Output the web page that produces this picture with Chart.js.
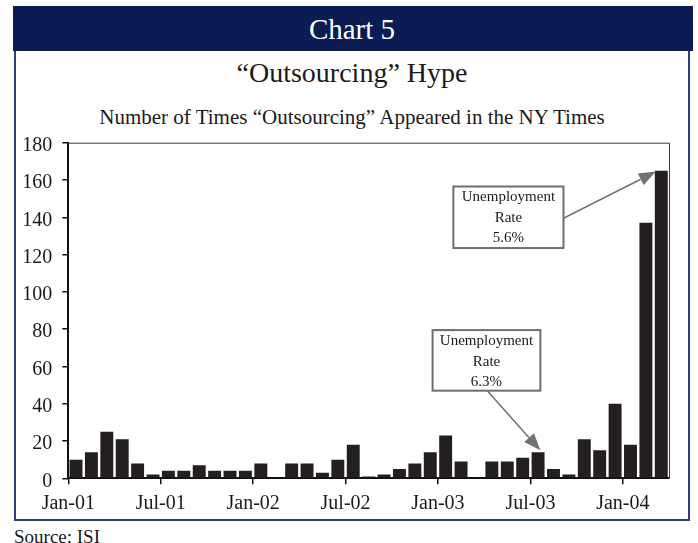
<!DOCTYPE html>
<html>
<head>
<meta charset="utf-8">
<script src="https://cdn.jsdelivr.net/npm/chart.js@4.4.1/dist/chart.umd.min.js"></script>
<style>
  body { margin: 0; background: #fff; }
  #page { position: relative; width: 698px; height: 543px; overflow: hidden; font-family: 'Liberation Serif', serif; color: #1a1a1a; }
  .band { position: absolute; left: 13px; top: 6px; width: 680px; height: 45px; background: #0b1b54; }
  .box { position: absolute; left: 14px; top: 51px; width: 676px; height: 470px; border: 2px solid #2c3e7c; border-top: none; box-sizing: border-box; }
  .txt { position: absolute; left: 14px; width: 676px; text-align: center; white-space: nowrap; }
  #chart { position: absolute; left: 0; top: 0; }
</style>
</head>
<body>
<div id="page">
  <div class="band"></div>
  <div class="box"></div>
  <div class="txt" style="top:15px; font-size:29px; line-height:29px; color:#fff;">Chart 5</div>
  <div class="txt" style="top:59px; font-size:28px; line-height:28px;">“Outsourcing” Hype</div>
  <div class="txt" style="top:107px; font-size:21px; line-height:21px;">Number of Times “Outsourcing” Appeared in the NY Times</div>
  <div class="txt" style="top:527px; left:14px; width:auto; text-align:left; font-size:19px; line-height:19px;">Source: ISI</div>
  <canvas id="chart" width="698" height="543"></canvas>
</div>
<script>
// monthly counts, Jan-01 .. Mar-04
const months = [
    'Jan-01', 'Feb-01', 'Mar-01', 'Apr-01', 'May-01', 'Jun-01', 'Jul-01', 'Aug-01', 'Sep-01', 'Oct-01', 'Nov-01', 'Dec-01',
    'Jan-02', 'Feb-02', 'Mar-02', 'Apr-02', 'May-02', 'Jun-02', 'Jul-02', 'Aug-02', 'Sep-02', 'Oct-02', 'Nov-02', 'Dec-02',
    'Jan-03', 'Feb-03', 'Mar-03', 'Apr-03', 'May-03', 'Jun-03', 'Jul-03', 'Aug-03', 'Sep-03', 'Oct-03', 'Nov-03', 'Dec-03',
    'Jan-04', 'Feb-04', 'Mar-04'
];
const counts = [
    10, 14, 25, 21, 8, 2, 4, 4, 7, 4, 4, 4,
    8, 0, 8, 8, 3, 10, 18, 1, 2, 5, 8, 14,
    23, 9, 0, 9, 9, 11, 14, 5, 2, 21, 15, 40,
    18, 137, 165
];
const tickLabels = ['Jan-01', 'Jul-01', 'Jan-02', 'Jul-02', 'Jan-03', 'Jul-03', 'Jan-04'];

// callouts, in data units (month index, count)
const notes = [
    { lines: ['Unemployment', 'Rate', '5.6%'], box: [25.0, 156.5, 32.15, 123.5], from: [32.15, 139.5], to: [38.15, 164.5] },
    { lines: ['Unemployment', 'Rate', '6.3%'], box: [23.65, 79.5, 30.65, 47], from: [27.2, 47], to: [30.65, 15] }
];

const FONT = 'Liberation Serif';

const framePlugin = {
    id: 'frame',
    beforeDatasetsDraw(chart) {
        const { ctx, chartArea: a } = chart;
        ctx.save();
        ctx.strokeStyle = '#3a3a3a';
        ctx.lineWidth = 1;
        ctx.beginPath();
        ctx.moveTo(a.left, a.top + 0.5);
        ctx.lineTo(a.right + 0.5, a.top + 0.5);
        ctx.lineTo(a.right + 0.5, a.bottom);
        ctx.stroke();
        ctx.restore();
    }
};

function drawArrow(ctx, x1, y1, x2, y2) {
    const ang = Math.atan2(y2 - y1, x2 - x1);
    const len = 17, half = 6.5;
    const bx = x2 - Math.cos(ang) * len, by = y2 - Math.sin(ang) * len;
    ctx.beginPath();
    ctx.moveTo(x1, y1);
    ctx.lineTo(bx, by);
    ctx.stroke();
    ctx.beginPath();
    ctx.moveTo(x2, y2);
    ctx.lineTo(bx + Math.sin(ang) * half, by - Math.cos(ang) * half);
    ctx.lineTo(bx - Math.sin(ang) * half, by + Math.cos(ang) * half);
    ctx.closePath();
    ctx.fill();
}

const notesPlugin = {
    id: 'notes',
    afterDatasetsDraw(chart) {
        const { ctx, scales: { x, y } } = chart;
        ctx.save();
        notes.forEach(n => {
            const l = x.getPixelForValue(n.box[0]), t = y.getPixelForValue(n.box[1]);
            const r = x.getPixelForValue(n.box[2]), b = y.getPixelForValue(n.box[3]);
            ctx.fillStyle = '#fff';
            ctx.fillRect(l, t, r - l, b - t);
            ctx.strokeStyle = '#6e6e6e';
            ctx.lineWidth = 2;
            ctx.strokeRect(l, t, r - l, b - t);

            ctx.fillStyle = '#1a1a1a';
            ctx.font = '15px "' + FONT + '"';
            ctx.textAlign = 'center';
            ctx.textBaseline = 'middle';
            n.lines.forEach((s, i) => ctx.fillText(s, (l + r) / 2, t + 11 + i * 20.5));

            ctx.strokeStyle = '#727272';
            ctx.fillStyle = '#727272';
            ctx.lineWidth = 1.5;
            drawArrow(ctx, x.getPixelForValue(n.from[0]), y.getPixelForValue(n.from[1]),
                x.getPixelForValue(n.to[0]), y.getPixelForValue(n.to[1]));
        });
        ctx.restore();
    }
};

const tickFont = { family: FONT, size: 20 };

new Chart(document.getElementById('chart'), {
    type: 'bar',
    data: {
        datasets: [{
            data: counts.map((v, i) => ({ x: i + 0.5, y: v })),
            backgroundColor: '#231f20',
            borderWidth: 0,
            barPercentage: 0.84,
            categoryPercentage: 1
        }]
    },
    options: {
        responsive: false,
        animation: false,
        layout: { padding: { top: 142.7, right: 29, left: 0, bottom: 0 } },
        plugins: { legend: { display: false }, tooltip: { enabled: false } },
        scales: {
            x: {
                type: 'linear',
                min: 0,
                max: 39,
                offset: false,
                afterFit: s => { s.height = 64.7; },
                grid: { offset: false, drawOnChartArea: false, tickLength: 6, color: '#111', lineWidth: 1.5 },
                border: { color: '#111', width: 2 },
                ticks: {
                    stepSize: 6,
                    includeBounds: false,
                    autoSkip: false,
                    maxRotation: 0,
                    padding: 7,
                    color: '#1a1a1a',
                    font: tickFont,
                    callback: v => tickLabels[v / 6]
                }
            },
            y: {
                min: 0,
                max: 180,
                afterFit: s => { s.width = 68.3; },
                grid: { drawOnChartArea: false, tickLength: 6, color: '#111', lineWidth: 1.5 },
                border: { color: '#111', width: 2 },
                ticks: { stepSize: 20, padding: 10, labelOffset: 3, color: '#1a1a1a', font: tickFont }
            }
        }
    },
    plugins: [framePlugin, notesPlugin]
});
</script>
</body>
</html>
